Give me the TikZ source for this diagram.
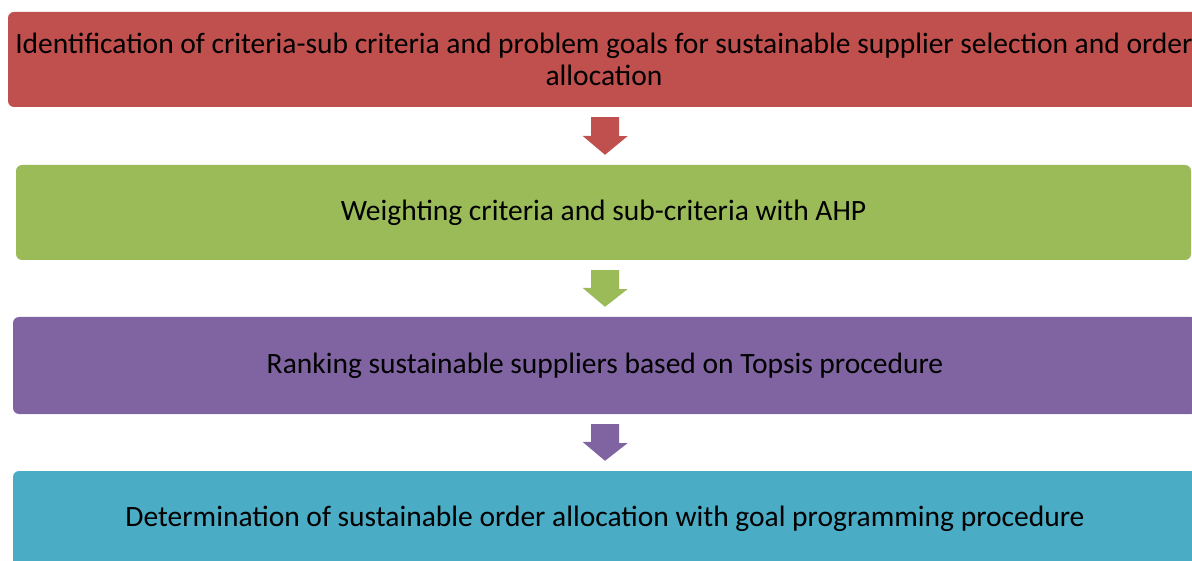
\documentclass[tikz,border=0pt]{standalone}
\usepackage{fontspec}
\setmainfont{Carlito}
\usetikzlibrary{calc}

\definecolor{stepred}{HTML}{C0504D}
\definecolor{stepgreen}{HTML}{9BBB59}
\definecolor{steppurple}{HTML}{8064A2}
\definecolor{stepcyan}{HTML}{4BACC6}

\tikzset{
  stagebox/.style={rectangle, rounded corners=6pt, draw=none, inner sep=0pt,
    minimum height=95pt, align=center, text=black,
    font=\fontsize{29.5}{32}\selectfont},
  flowarrow/.style={draw=none}
}

\begin{document}
\begin{tikzpicture}[x=1pt, y=-1pt]
  \useasboundingbox (0,0) rectangle (1192,561);
  \clip (0,0) rectangle (1192,561);

  % vertical axis of the flow arrows
  \coordinate (axis) at (605,0);

  % process stages
  \node[stagebox, fill=stepred, minimum width=1192pt] (ident) at (604,59.5)
    {Identification of criteria-sub criteria and problem goals for sustainable supplier selection and order\\allocation};
  \node[stagebox, fill=stepgreen, minimum width=1175pt] (weight) at (603.5,212.5)
    {Weighting criteria and sub-criteria with AHP};
  \node[stagebox, fill=steppurple, minimum width=1184pt, minimum height=97pt] (rank) at (605,365.5)
    {Ranking sustainable suppliers based on Topsis procedure};
  \node[stagebox, fill=stepcyan, minimum width=1184pt] (alloc) at (605,518.5)
    {Determination of sustainable order allocation with goal programming procedure};

  % block arrows between consecutive stages
  \foreach \a/\b/\c in {ident/weight/stepred, weight/rank/stepgreen, rank/alloc/steppurple}{
    \fill[flowarrow, fill=\c]
      ($(\a.south -| axis)+(-14,10)$) -- ++(28,0) -- ++(0,19) -- ++(8.5,0)
      -- ($(\b.north -| axis)+(0,-10)$) -- ++(-22.5,-19) -- ++(8.5,0) -- cycle;
  }
\end{tikzpicture}
\end{document}
